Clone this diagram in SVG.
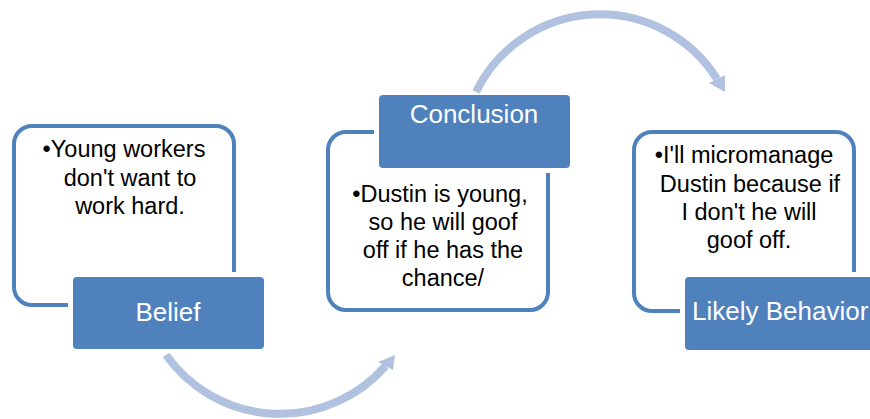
<svg xmlns="http://www.w3.org/2000/svg" width="870" height="419" viewBox="0 0 870 419">
<style>
.outline{fill:#ffffff;stroke:#4F81BD;stroke-width:4}
.title{fill:#4F81BD;stroke:#ffffff;stroke-width:10;paint-order:stroke fill}
.tt{font-family:"Liberation Sans",Arial,sans-serif;font-size:26px;fill:#ffffff;text-anchor:middle}
.bt{font-family:"Liberation Sans",Arial,sans-serif;font-size:23.5px;fill:#000000;text-anchor:middle}
.arc{fill:none;stroke:#B0C2DF;stroke-width:8}
.head{fill:#B0C2DF}
</style>
<rect width="870" height="419" fill="#ffffff"/>
<g id="belief">
<rect class="outline" x="14" y="126" width="220" height="179" rx="18"/>
<text class="bt" x="124" y="157">•Young workers</text>
<text class="bt" x="130" y="186">don't want to</text>
<text class="bt" x="130" y="214">work hard.</text>
<rect class="title" x="73" y="277" width="191" height="72" rx="4"/>
<text class="tt" x="168" y="321">Belief</text>
</g>
<g id="conclusion">
<rect class="outline" x="328" y="132" width="220" height="178" rx="18"/>
<text class="bt" x="440" y="202">•Dustin is young,</text>
<text class="bt" x="443" y="230">so he will goof</text>
<text class="bt" x="443" y="258">off if he has the</text>
<text class="bt" x="443" y="286">chance/</text>
<rect class="title" x="379" y="95" width="191" height="73" rx="4"/>
<text class="tt" x="474" y="123">Conclusion</text>
</g>
<g id="behavior">
<rect class="outline" x="634" y="132" width="220" height="179" rx="18"/>
<text class="bt" x="744" y="163">•I'll micromanage</text>
<text class="bt" x="750" y="192">Dustin because if</text>
<text class="bt" x="749" y="220">I don't he will</text>
<text class="bt" x="749" y="248">goof off.</text>
<rect class="title" x="685" y="277" width="191" height="73" rx="4"/>
<text class="tt" x="692" y="320" style="text-anchor:start">Likely Behavior</text>
</g>
<g id="connectors">
<path class="arc" d="M166,355 A140,140 0 0,0 385.5,366"/>
<polygon class="head" points="395,355 378,362 393,370"/>
<path class="arc" d="M476,92 A138,138 0 0,1 717,79"/>
<polygon class="head" points="725,92 709,83 725,75"/>
</g>
</svg>
